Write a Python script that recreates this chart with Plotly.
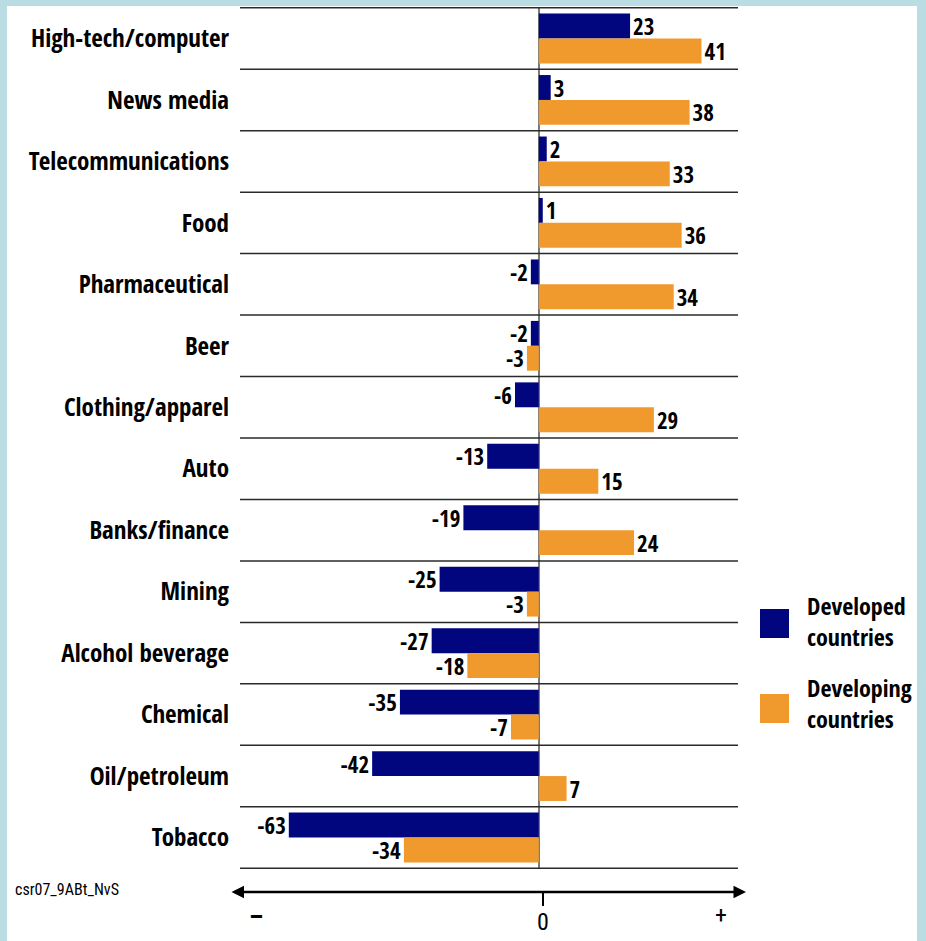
import plotly.graph_objects as go

categories = ["High-tech/computer", "News media", "Telecommunications", "Food",
              "Pharmaceutical", "Beer", "Clothing/apparel", "Auto",
              "Banks/finance", "Mining", "Alcohol beverage", "Chemical",
              "Oil/petroleum", "Tobacco"]
developed = [23, 3, 2, 1, -2, -2, -6, -13, -19, -25, -27, -35, -42, -63]
developing = [41, 38, 33, 36, 34, -3, 29, 15, 24, -3, -18, -7, 7, -34]
series_names = ["Developed<br>countries", "Developing<br>countries"]
axis_labels = ["–", "0", "+"]
footnote = "csr07_9ABt_NvS"

NAVY = "#01067f"
ORANGE = "#f09a2e"
BORDER = "#b9dde2"
FONT = "Open Sans Condensed"
FONT_REG = "Roboto Condensed"

W, H = 926, 941
ML, MR, MT, MB = 240, 188, 7, 72
PW, PH = W - ML - MR, H - MT - MB
XR = [-75.3, 50.2]


def px_x(px):
    return (px - ML) / PW


def px_y(py):
    return (H - MB - py) / PH


fig = go.Figure()
for vals, color, name in [(developed, NAVY, series_names[0]), (developing, ORANGE, series_names[1])]:
    fig.add_trace(go.Bar(
        y=categories, x=vals, orientation="h", name=name,
        marker=dict(color=color, line=dict(width=0)),
        text=[str(v) for v in vals], textposition="outside",
        textfont=dict(family=FONT, size=23, color="black", weight="bold"),
        constraintext="none", cliponaxis=False, showlegend=False,
    ))

shapes = [
    # white page inside the light-blue frame
    dict(type="rect", xref="paper", yref="paper", layer="below",
         x0=px_x(7), x1=px_x(917), y0=px_y(H + 5), y1=px_y(6),
         fillcolor="white", line=dict(width=0)),
]
# row separators
for i in range(len(categories) + 1):
    shapes.append(dict(type="line", xref="paper", yref="y", x0=0, x1=1,
                       y0=i - 0.5, y1=i - 0.5, line=dict(color="#2a2a2a", width=1.5)))
# tick mark at zero on the bottom axis
shapes.append(dict(type="line", xref="paper", yref="paper", x0=px_x(543), x1=px_x(543),
                   y0=px_y(906), y1=px_y(892), line=dict(color="black", width=2)))
# legend swatches
shapes.append(dict(type="rect", xref="paper", yref="paper", x0=px_x(760), x1=px_x(789),
                   y0=px_y(638), y1=px_y(609), fillcolor=NAVY, line=dict(width=0)))
shapes.append(dict(type="rect", xref="paper", yref="paper", x0=px_x(760), x1=px_x(789),
                   y0=px_y(723), y1=px_y(694), fillcolor=ORANGE, line=dict(width=0)))

annotations = [
    # double-headed bottom axis
    dict(xref="paper", yref="paper", x=px_x(746), y=px_y(892),
         axref="pixel", ayref="pixel", ax=-(746 - 230), ay=0, text="",
         showarrow=True, arrowhead=2, arrowside="end+start", arrowsize=1,
         arrowwidth=2.5, arrowcolor="black"),
    dict(xref="paper", yref="paper", x=px_x(256), y=px_y(917), text=axis_labels[0],
         xanchor="center", yanchor="middle", showarrow=False,
         font=dict(family=FONT_REG, size=26, color="black", weight="bold")),
    dict(xref="paper", yref="paper", x=px_x(543), y=px_y(922), text=axis_labels[1],
         xanchor="center", yanchor="middle", showarrow=False,
         font=dict(family=FONT_REG, size=24, color="black")),
    dict(xref="paper", yref="paper", x=px_x(721), y=px_y(915), text=axis_labels[2],
         xanchor="center", yanchor="middle", showarrow=False,
         font=dict(family=FONT_REG, size=24, color="black")),
    dict(xref="paper", yref="paper", x=px_x(805), y=px_y(621), xanchor="left",
         yanchor="middle", text=series_names[0], showarrow=False, align="left",
         font=dict(family=FONT, size=24, color="black", weight="bold")),
    dict(xref="paper", yref="paper", x=px_x(805), y=px_y(703), xanchor="left",
         yanchor="middle", text=series_names[1], showarrow=False, align="left",
         font=dict(family=FONT, size=24, color="black", weight="bold")),
    dict(xref="paper", yref="paper", x=px_x(13), y=px_y(890), xanchor="left",
         yanchor="middle", text=footnote, showarrow=False,
         font=dict(family=FONT_REG, size=16, color="black")),
]

fig.update_layout(
    width=W, height=H,
    margin=dict(l=ML, r=MR, t=MT, b=MB, pad=0),
    paper_bgcolor=BORDER, plot_bgcolor="white",
    barmode="group", bargap=0.19, bargroupgap=0,
    shapes=shapes, annotations=annotations,
    xaxis=dict(range=XR, showgrid=False, showticklabels=False, ticks="",
               zeroline=True, zerolinecolor="#7a7a7a", zerolinewidth=1.5,
               showline=False, fixedrange=True),
    yaxis=dict(autorange="reversed", showgrid=False, ticks="", showline=False,
               ticklabelstandoff=10,
               tickfont=dict(family=FONT, size=25, color="black", weight="bold")),
)

fig.write_html("out.html")
